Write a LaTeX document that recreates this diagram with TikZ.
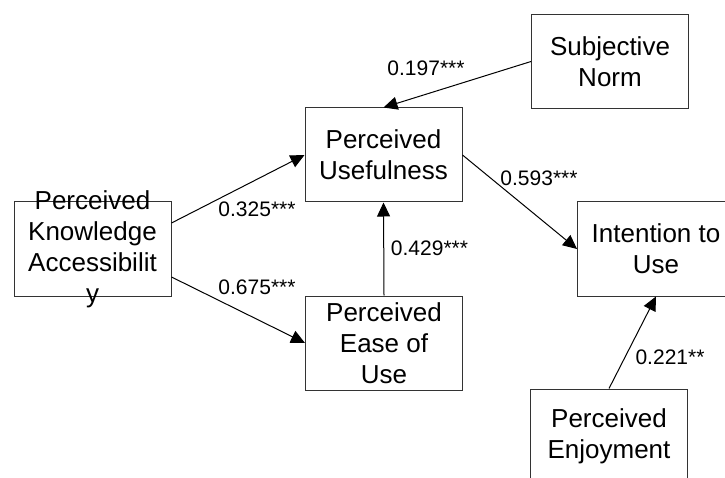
\documentclass[tikz,border=0pt]{standalone}
\usepackage{fontspec}
\setmainfont{Liberation Sans}
\usetikzlibrary{arrows.meta,calc}

\tikzset{
  construct/.style={draw=black!80, line width=1pt, minimum width=157pt,
    minimum height=94pt, inner sep=0pt, fill=white},
  boxtext/.style={align=center, inner sep=0pt,
    font=\fontsize{26}{31}\selectfont},
  path/.style={draw=black, line width=1pt,
    -{Triangle[length=14pt,width=13pt]}},
  coef/.style={inner sep=0pt, font=\fontsize{21}{25}\selectfont}
}

\begin{document}
\begin{tikzpicture}[x=1pt,y=-1pt]
  \fill[white] (0,0) rectangle (725,478);
  \useasboundingbox (0,0) rectangle (725,478);
  \clip (0,0) rectangle (725,478);

  % constructs
  \node[construct] (pka)  at (92.5,249) {};
  \node[construct] (pu)   at (383.5,155) {};
  \node[construct] (sn)   at (610,61.5) {};
  \node[construct] (peou) at (384,343) {};
  \node[construct] (itu)  at (656,249) {};
  \node[construct] (pe)   at (609,436) {};

  % construct names
  \node[boxtext] (pkat)  at (pka.center)  {Perceived\\Knowledge\\Accessibilit\\y};
  \node[boxtext] (put)   at (pu.center)   {Perceived\\Usefulness};
  \node[boxtext] (snt)   at (sn.center)   {Subjective\\Norm};
  \node[boxtext] (peout) at (peou.center) {Perceived\\Ease of\\Use};
  \node[boxtext] (itut)  at (itu.center)  {Intention to\\Use};
  \node[boxtext] (pet)   at (pe.center)   {Perceived\\Enjoyment};

  % structural paths
  \draw[path] (sn.west) -- (pu.north);
  \draw[path] ([yshift=26pt]pka.east) -- (pu.west);
  \draw[path] ([yshift=-28pt]pka.east) -- (peou.west);
  \draw[path] (peou.north) -- (pu.south);
  \draw[path] (pu.east) -- (itu.west);
  \draw[path] (pe.north) -- (itu.south);

  % path coefficients
  \node[coef] (c1) at (426,68)  {0.197***};
  \node[coef] (c2) at (257,209) {0.325***};
  \node[coef] (c3) at (257,287) {0.675***};
  \node[coef] (c4) at (429.5,248) {0.429***};
  \node[coef] (c5) at (539,178) {0.593***};
  \node[coef] (c6) at (670,357) {0.221**};
\end{tikzpicture}
\end{document}
